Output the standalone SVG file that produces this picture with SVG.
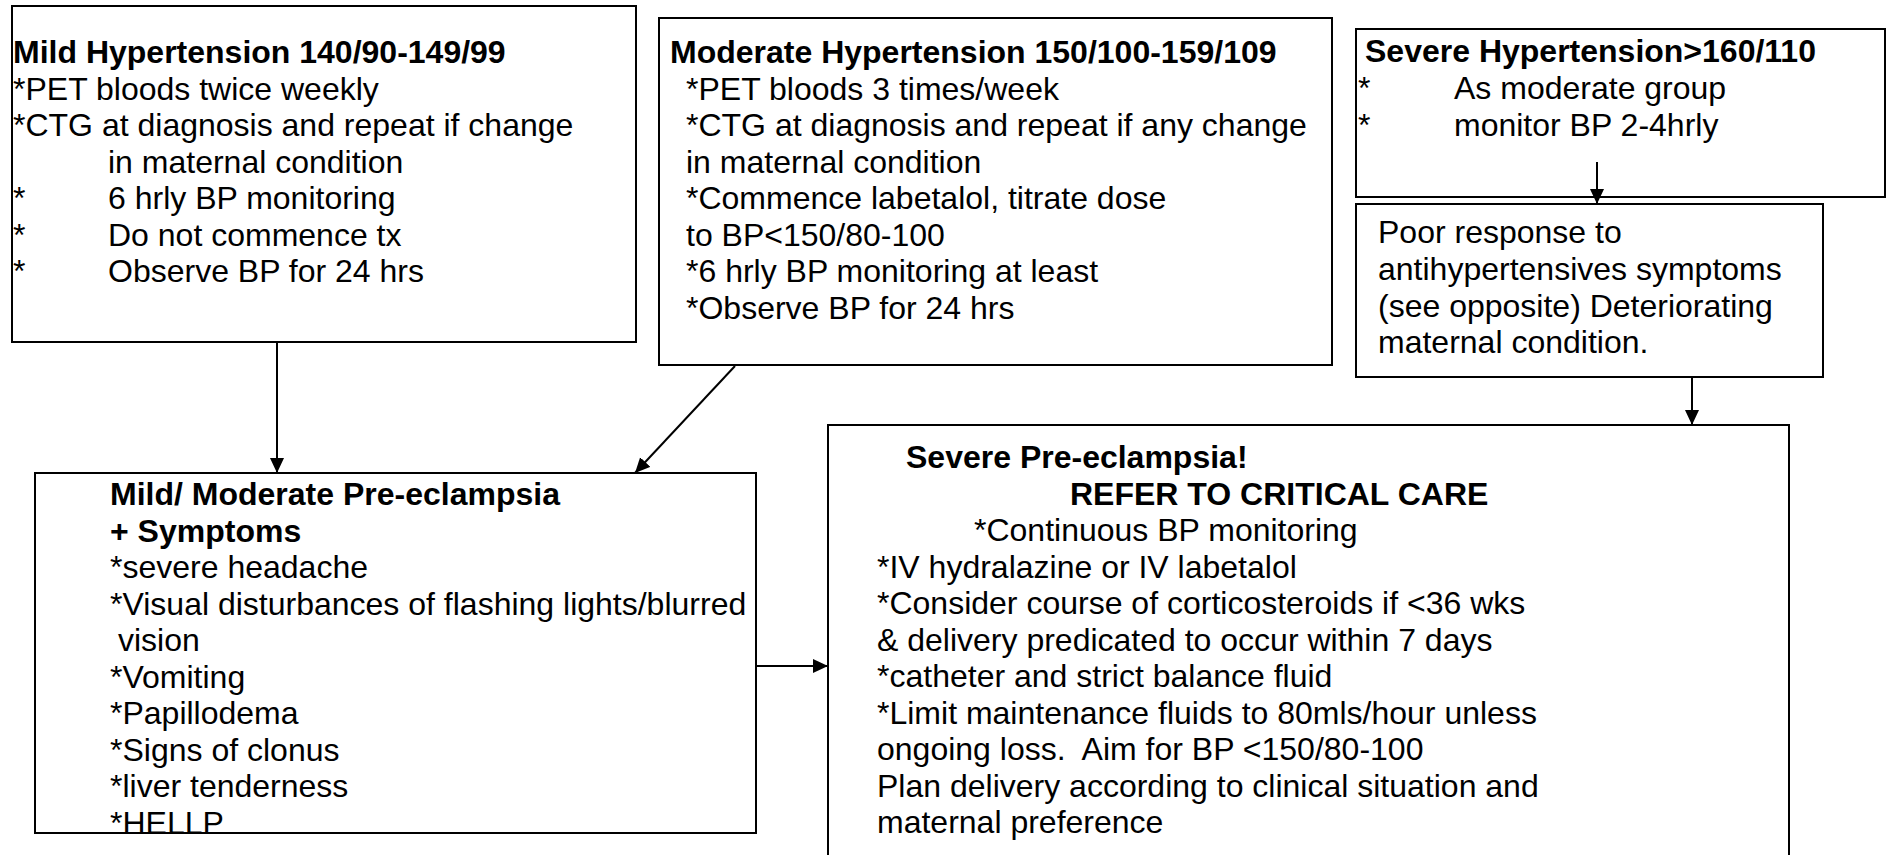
<svg xmlns="http://www.w3.org/2000/svg" width="1889" height="855" viewBox="0 0 1889 855">
<style>
  .box { fill: #ffffff; stroke: #000000; stroke-width: 2; }
  .t { font-family: "Liberation Sans", Arial, sans-serif; font-size: 32px; fill: #000000; }
  .b { font-weight: bold; }
  .conn { stroke: #000000; stroke-width: 2; fill: none; marker-end: url(#arr); }
</style>
<defs>
  <marker id="arr" markerUnits="userSpaceOnUse" markerWidth="16" markerHeight="15" refX="15" refY="7" orient="auto">
    <path d="M0,0 L15,7 L0,14 z" fill="#000000"/>
  </marker>
</defs>
<rect x="0" y="0" width="1889" height="855" fill="#ffffff"/>

<g id="mild-hypertension">
  <rect class="box" x="12" y="6" width="624" height="336"/>
  <text class="t b" x="13" y="63">Mild Hypertension 140/90-149/99</text>
  <text class="t" x="13" y="99.5">*PET bloods twice weekly</text>
  <text class="t" x="13" y="136">*CTG at diagnosis and repeat if change</text>
  <text class="t" x="108" y="172.5">in maternal condition</text>
  <text class="t" x="13" y="209">*</text>
  <text class="t" x="108" y="209">6 hrly BP monitoring</text>
  <text class="t" x="13" y="245.5">*</text>
  <text class="t" x="108" y="245.5">Do not commence tx</text>
  <text class="t" x="13" y="282">*</text>
  <text class="t" x="108" y="282">Observe BP for 24 hrs</text>
</g>

<g id="moderate-hypertension">
  <rect class="box" x="659" y="18" width="673" height="347"/>
  <text class="t b" x="670" y="63">Moderate Hypertension 150/100-159/109</text>
  <text class="t" x="686" y="99.5">*PET bloods 3 times/week</text>
  <text class="t" x="686" y="136">*CTG at diagnosis and repeat if any change</text>
  <text class="t" x="686" y="172.5">in maternal condition</text>
  <text class="t" x="686" y="209">*Commence labetalol, titrate dose</text>
  <text class="t" x="686" y="245.5">to BP&lt;150/80-100</text>
  <text class="t" x="686" y="282">*6 hrly BP monitoring at least</text>
  <text class="t" x="686" y="318.5">*Observe BP for 24 hrs</text>
</g>

<g id="severe-hypertension">
  <rect class="box" x="1356" y="29" width="529" height="168"/>
  <text class="t b" x="1365" y="62">Severe Hypertension&gt;160/110</text>
  <text class="t" x="1358" y="99">*</text>
  <text class="t" x="1454" y="99">As moderate group</text>
  <text class="t" x="1358" y="136">*</text>
  <text class="t" x="1454" y="136">monitor BP 2-4hrly</text>
</g>

<g id="poor-response">
  <rect class="box" x="1356" y="204" width="467" height="173"/>
  <text class="t" x="1378" y="243">Poor response to</text>
  <text class="t" x="1378" y="280">antihypertensives symptoms</text>
  <text class="t" x="1378" y="316.5">(see opposite) Deteriorating</text>
  <text class="t" x="1378" y="353">maternal condition.</text>
</g>

<g id="mild-moderate-pre-eclampsia">
  <rect class="box" x="35" y="473" width="721" height="360"/>
  <text class="t b" x="110" y="505">Mild/ Moderate Pre-eclampsia</text>
  <text class="t b" x="110" y="541.5">+ Symptoms</text>
  <text class="t" x="110" y="578">*severe headache</text>
  <text class="t" x="110" y="614.5">*Visual disturbances of flashing lights/blurred</text>
  <text class="t" x="118" y="651">vision</text>
  <text class="t" x="110" y="687.5">*Vomiting</text>
  <text class="t" x="110" y="724">*Papillodema</text>
  <text class="t" x="110" y="760.5">*Signs of clonus</text>
  <text class="t" x="110" y="797">*liver tenderness</text>
  <text class="t" x="110" y="833.5">*HELLP</text>
</g>

<g id="severe-pre-eclampsia">
  <rect class="box" x="828" y="425" width="961" height="450"/>
  <text class="t b" x="906" y="468">Severe Pre-eclampsia!</text>
  <text class="t b" x="1070" y="504.5">REFER TO CRITICAL CARE</text>
  <text class="t" x="974" y="541">*Continuous BP monitoring</text>
  <text class="t" x="877" y="577.5">*IV hydralazine or IV labetalol</text>
  <text class="t" x="877" y="614">*Consider course of corticosteroids if &lt;36 wks</text>
  <text class="t" x="877" y="650.5">&amp; delivery predicated to occur within 7 days</text>
  <text class="t" x="877" y="687">*catheter and strict balance fluid</text>
  <text class="t" x="877" y="723.5">*Limit maintenance fluids to 80mls/hour unless</text>
  <text class="t" x="877" y="760" xml:space="preserve">ongoing loss.  Aim for BP &lt;150/80-100</text>
  <text class="t" x="877" y="796.5">Plan delivery according to clinical situation and</text>
  <text class="t" x="877" y="833">maternal preference</text>
</g>

<g id="connectors">
  <path class="conn" d="M277,342 L277,473"/>
  <path class="conn" d="M735,366 L635,473"/>
  <path class="conn" d="M756,666 L828,666"/>
  <path class="conn" d="M1597,162 L1597,204"/>
  <path class="conn" d="M1692,377 L1692,425"/>
</g>
</svg>
